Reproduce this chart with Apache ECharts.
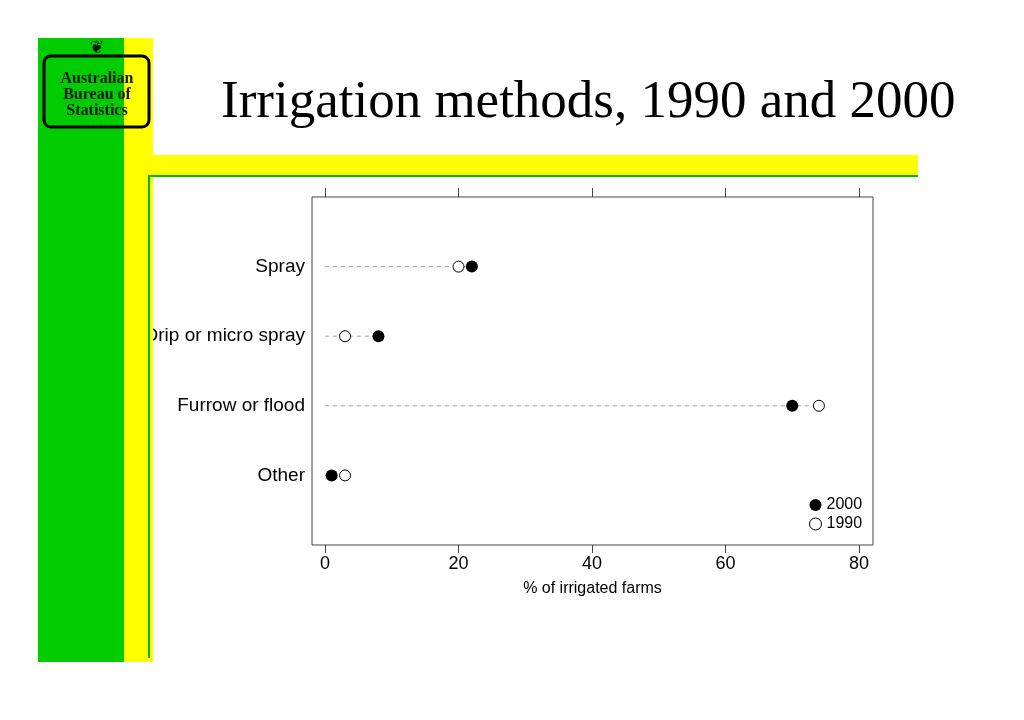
<!DOCTYPE html>
<html>
<head>
<meta charset="utf-8">
<script src="https://cdn.jsdelivr.net/npm/echarts@6/dist/echarts.min.js"></script>
<style>
  html, body { margin: 0; padding: 0; background: #fff; }
  #chart { width: 1024px; height: 720px; }
</style>
</head>
<body>
<div id="chart"></div>
<script>
// Irrigation methods, share of irrigated farms (%)

const categories = ["Spray", "Drip or micro spray", "Furrow or flood", "Other"];
const values2000 = [22, 8, 70, 1];
const values1990 = [20, 3, 74, 3];
const xTicks = [0, 20, 40, 60, 80];

const chartDom = document.getElementById("chart");
const myChart = echarts.init(chartDom);

// category i sits at y = i + 1 on a 0..5 axis
const pos = categories.map((c, i) => i + 1);
const dots2000 = values2000.map((v, i) => [v, pos[i]]);
const dots1990 = values1990.map((v, i) => [v, pos[i]]);
const guideData = categories.map((c, i) => [
  Math.max(values2000[i], values1990[i]),
  pos[i],
]);

const sans = "Liberation Sans, Arial, sans-serif";

const option = {
  animation: false,
  backgroundColor: "#fff",
  title: {
    text: "Irrigation methods, 1990 and 2000",
    left: 216,
    top: 72,
    textStyle: {
      fontFamily: "Liberation Serif, Times New Roman, serif",
      fontSize: 53,
      fontWeight: "normal",
      color: "#000",
    },
  },
  grid: {
    left: 312,
    top: 197,
    width: 561,
    height: 348,
    show: true,
    borderColor: "#444",
    borderWidth: 1,
    backgroundColor: "transparent",
  },
  legend: {
    orient: "vertical",
    left: 804,
    top: 492,
    itemWidth: 12,
    itemHeight: 12,
    itemGap: 3,
    data: [
      { name: "2000", itemStyle: { color: "#000", opacity: 1 } },
      {
        name: "1990",
        itemStyle: { color: "#fff", borderColor: "#000", borderWidth: 1, opacity: 1 },
      },
    ],
    textStyle: { fontFamily: sans, fontSize: 16, color: "#000" },
  },
  xAxis: [
    {
      type: "value",
      min: -1.95,
      max: 82.1,
      position: "bottom",
      splitLine: { show: false },
      axisLine: { show: false, onZero: false },
      axisTick: {
        show: true,
        length: 8,
        customValues: xTicks,
        lineStyle: { color: "#444" },
      },
      axisLabel: {
        customValues: xTicks,
        fontFamily: sans,
        fontSize: 18,
        color: "#000",
        margin: 10,
      },
      name: "% of irrigated farms",
      nameLocation: "middle",
      nameGap: 36,
      nameTextStyle: { fontFamily: sans, fontSize: 16, color: "#000" },
    },
    {
      type: "value",
      min: -1.95,
      max: 82.1,
      position: "top",
      splitLine: { show: false },
      axisLine: { show: false, onZero: false },
      axisTick: {
        show: true,
        length: 9,
        customValues: xTicks,
        lineStyle: { color: "#444" },
      },
      axisLabel: { show: false },
    },
  ],
  yAxis: {
    type: "value",
    min: 0,
    max: 5,
    inverse: true,
    splitLine: { show: false },
    axisLine: { show: false, onZero: false },
    axisTick: { show: false },
    axisLabel: {
      customValues: pos,
      formatter: (v) => categories[Math.round(v) - 1] || "",
      fontFamily: sans,
      fontSize: 19,
      color: "#000",
      margin: 7,
    },
  },
  series: [
    {
      name: "guide",
      type: "custom",
      silent: true,
      z: 1,
      data: guideData,
      renderItem: function (params, api) {
        const start = api.coord([0, api.value(1)]);
        const end = api.coord([api.value(0), api.value(1)]);
        return {
          type: "line",
          shape: { x1: start[0], y1: start[1], x2: end[0], y2: end[1] },
          style: { stroke: "#a0a0a0", lineWidth: 1, lineDash: [4, 4] },
        };
      },
    },
    {
      name: "2000",
      type: "scatter",
      z: 3,
      symbol: "circle",
      symbolSize: 12,
      itemStyle: { color: "#000", opacity: 1 },
      data: dots2000,
    },
    {
      name: "1990",
      type: "scatter",
      z: 3,
      symbol: "circle",
      symbolSize: 11,
      itemStyle: { color: "#fff", borderColor: "#000", borderWidth: 1, opacity: 1 },
      data: dots1990,
    },
  ],
  graphic: [
    // slide frame: green and yellow strips
    { type: "rect", z: 100, shape: { x: 38, y: 38, width: 86, height: 624 }, style: { fill: "#00cc00" } },
    { type: "rect", z: 100, shape: { x: 124, y: 38, width: 29, height: 624 }, style: { fill: "#ffff00" } },
    { type: "rect", z: 100, shape: { x: 153, y: 155, width: 765, height: 20 }, style: { fill: "#ffff00" } },
    { type: "rect", z: 100, shape: { x: 148, y: 175, width: 770, height: 2 }, style: { fill: "#00bb00" } },
    { type: "rect", z: 100, shape: { x: 148, y: 175, width: 2, height: 483 }, style: { fill: "#00bb00" } },
    // logo
    {
      type: "rect",
      z: 101,
      shape: { x: 44, y: 56, width: 105, height: 71, r: 7 },
      style: { fill: "transparent", stroke: "#000", lineWidth: 3 },
    },
    {
      type: "text",
      z: 102,
      style: {
        x: 97,
        y: 95,
        text: "Australian\nBureau of\nStatistics",
        align: "center",
        verticalAlign: "middle",
        fill: "#0a1a0a",
        font: "bold 16px Liberation Serif, serif",
        lineHeight: 16,
      },
    },
    {
      type: "text",
      z: 102,
      style: {
        x: 97,
        y: 48,
        text: "\u2766",
        align: "center",
        verticalAlign: "middle",
        fill: "#0a1a0a",
        font: "18px DejaVu Sans, sans-serif",
      },
    },
  ],
};

myChart.setOption(option);
</script>
</body>
</html>
